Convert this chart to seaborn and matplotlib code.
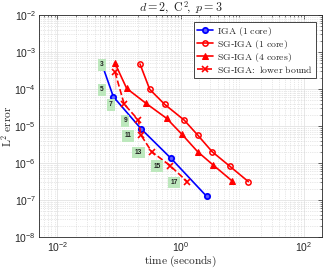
import seaborn as sns
from matplotlib import pyplot as plt
from matplotlib.ticker import LogLocator, NullFormatter

# polynomial degrees written next to the lower-bound curve
degrees = [3, 5, 7, 9, 11, 13, 15, 17]

# IGA (1 core)
iga_time = [0.0578, 0.0809, 0.227, 0.697, 2.64]
iga_err = [3.06e-4, 6.19e-5, 8.45e-6, 1.34e-6, 1.26e-7]

# SG-IGA (1 core)
sg1_time = [0.219, 0.315, 0.551, 1.14, 1.89, 3.25, 6.22, 12.6]
sg1_err = [4.74e-4, 9.8e-5, 3.85e-5, 1.45e-5, 5.7e-6, 2.02e-6, 8.3e-7, 3.13e-7]

# SG-IGA (4 cores)
sg4_time = [0.0861, 0.133, 0.274, 0.593, 1.05, 1.89, 3.38, 6.86]
sg4_err = [4.96e-4, 1.04e-4, 4.11e-5, 1.61e-5, 5.97e-6, 2.02e-6, 8.8e-7, 3.27e-7]

# SG-IGA: lower bound
lb_time = [0.0861, 0.0861, 0.121, 0.206, 0.227, 0.339, 0.671, 1.28]
lb_err = [4.74e-4, 1.0e-4, 3.93e-5, 1.45e-5, 5.7e-6, 2.02e-6, 8.55e-7, 3.13e-7]

sns.set_style('white')
plt.rcParams['font.family'] = ['Liberation Sans', 'DejaVu Sans']
plt.rcParams['mathtext.fontset'] = 'cm'

fig = plt.figure(figsize=(3.24, 2.69), dpi=100)
ax = fig.add_axes([0.120, 0.119, 0.875, 0.825])

# the curves
sns.lineplot(x=iga_time, y=iga_err, ax=ax, sort=False, color='#0000ff', lw=1.2,
             marker='o', ms=3.8, mfc='#6060ff', mew=1.3, markeredgecolor='#0000ff',
             markevery=list(range(1, len(iga_time))), label=r'$\mathrm{IGA\ (1\ core)}$')
sns.lineplot(x=sg1_time, y=sg1_err, ax=ax, sort=False, color='#ff0000', lw=1.2,
             marker='o', ms=3.8, mfc='none', mew=1.1, markeredgecolor='#ff0000',
             label=r'$\mathrm{SG}$-$\mathrm{IGA\ (1\ core)}$')
sns.lineplot(x=sg4_time, y=sg4_err, ax=ax, sort=False, color='#ff0000', lw=1.2,
             marker='^', ms=4.5, markeredgecolor='#ff0000',
             label=r'$\mathrm{SG}$-$\mathrm{IGA\ (4\ cores)}$')
sns.lineplot(x=lb_time, y=lb_err, ax=ax, sort=False, color='#ff0000', lw=1.2,
             linestyle='--', dashes=(3, 2), marker='x', ms=3.8, mew=1.2,
             markeredgecolor='#ff0000',
             label=r'$\mathrm{SG}$-$\mathrm{IGA\!:\ lower\ bound}$')

# degree tags, left of the lower-bound points
for d, t, e in zip(degrees, lb_time, lb_err):
    ax.annotate(str(d), (t, e), xytext=(-9.5, -0.5), textcoords='offset points',
                ha='center', va='center', fontsize=4.8, fontweight='bold',
                color='#222222', zorder=5,
                bbox=dict(boxstyle='square,pad=0.35', fc='#bde8bd', ec='none'))

ax.set_xscale('log')
ax.set_yscale('log')
ax.set_xlim(0.005, 200)
ax.set_ylim(1e-8, 1e-2)
ax.xaxis.set_major_locator(LogLocator(base=100, numticks=10))
ax.yaxis.set_major_locator(LogLocator(base=10, numticks=10))
ax.xaxis.set_minor_locator(LogLocator(base=10, subs='auto', numticks=20))
ax.yaxis.set_minor_locator(LogLocator(base=10, subs='auto', numticks=20))
ax.xaxis.set_minor_formatter(NullFormatter())
ax.yaxis.set_minor_formatter(NullFormatter())

# matlab-ish grid: light major lines, dotted minor ones
ax.grid(True, which='major', color='#e3e3e3', lw=0.6, ls='-')
ax.grid(True, which='minor', color='#d0d0d0', lw=0.5, ls=':')
ax.set_axisbelow(True)

ax.tick_params(which='both', direction='in', top=True, right=True,
               colors='#262626', labelsize=7.5, pad=2)
ax.tick_params(which='major', length=3, width=0.5)
ax.tick_params(which='minor', length=1.5, width=0.4)
for s in ax.spines.values():
    s.set_color('#262626')
    s.set_linewidth(0.6)

ax.set_title(r'$d=2,\ \mathrm{C}^2\!,\ p=3$', fontsize=8.7, pad=2.5)
ax.set_xlabel(r'$\mathrm{time\ (seconds)}$', fontsize=8.2, labelpad=0)
ax.set_ylabel(r'$\mathrm{L}^2\ \mathrm{error}$', fontsize=8.2, labelpad=0.5)

leg = ax.legend(loc='upper right', fontsize=7, fancybox=False, framealpha=1,
                edgecolor='#262626', handlelength=1.7, handletextpad=0.35,
                labelspacing=0.0, borderpad=0.3, borderaxespad=0.7)
leg.get_frame().set_linewidth(0.6)

fig.savefig('out.png', dpi=100)
